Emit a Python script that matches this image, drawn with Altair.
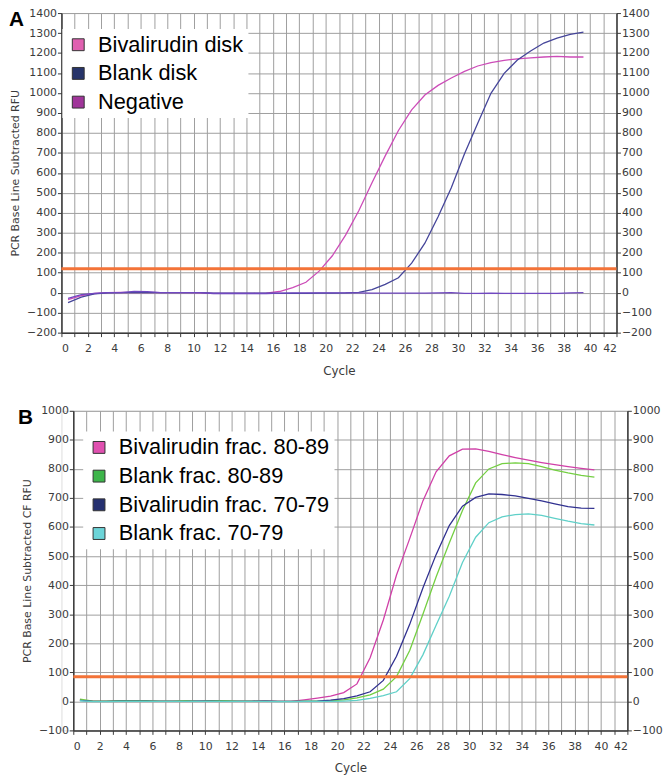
import altair as alt
import pandas as pd

cycles = [i + 0.5 for i in range(40)]

a_names = ["Bivalirudin disk", "Blank disk", "Negative"]
a_biv_disk = [-35, -15, -4, 0, 1, 2, 1, 0, 0, 0,
              -1, -3, -3, -3, -3, -2, 6, 25, 52, 108,
              185, 288, 410, 550, 685, 812, 915, 990, 1038, 1075,
              1108, 1135, 1152, 1163, 1171, 1176, 1180, 1183, 1180, 1180]
a_blank_disk = [-50, -22, -6, -1, 0, 0, 0, 0, 0, 0,
                0, -2, -2, -2, -2, -2, -3, -3, -3, -2,
                -2, -1, 2, 15, 42, 75, 148, 248, 380, 525,
                696, 848, 998, 1098, 1165, 1210, 1250, 1275, 1293, 1305]
a_negative = [-28, -10, -3, 0, 0, 7, 5, 0, 0, 0,
              0, -4, -4, -4, -4, -4, -2, -1, -1, -1,
              -1, -1, -1, -2, -2, -2, -2, -2, -1, 0,
              -3, -3, -2, -3, -3, -3, -3, -3, -1, 0]
a_line_colors = ["#cc4cb8", "#45459a", "#7048c0"]
a_legend_colors = ["#e060b0", "#27346a", "#a0359a"]
a_threshold = [120]

b_names = ["Bivalirudin frac. 80-89", "Blank frac. 80-89",
           "Bivalirudin frac. 70-79", "Blank frac. 70-79"]
b_biv_8089 = [5, 0, 0, 1, 1, 1, 1, 1, 1, 0,
              1, 1, 1, 1, 2, 0, 0, 5, 11, 18,
              30, 60, 150, 280, 435, 560, 690, 790, 845, 868,
              869, 860, 849, 839, 830, 822, 815, 808, 802, 797]
b_blank_8089 = [8, 1, 1, 2, 2, 2, 1, 1, 2, 1,
                2, 2, 1, 1, 1, 0, 0, 1, 1, 2,
                5, 12, 22, 42, 85, 175, 300, 428, 545, 657,
                752, 800, 818, 821, 818, 808, 796, 786, 778, 772]
b_biv_7079 = [3, 0, 0, 1, 1, 1, 0, 0, 0, 1,
              1, 0, 0, 0, 1, 0, 0, 0, 1, 4,
              9, 19, 33, 72, 155, 265, 390, 505, 605, 672,
              702, 714, 712, 707, 699, 690, 680, 670, 665, 664]
b_blank_7079 = [2, -1, -1, 0, 0, 0, 0, 0, 0, 0,
                0, 0, 0, 0, 0, -1, -1, 0, 0, 0,
                1, 3, 10, 20, 33, 78, 160, 262, 362, 478,
                565, 615, 635, 643, 645, 640, 630, 620, 612, 607]
b_line_colors = ["#d040a8", "#74cf42", "#303090", "#5fd0c8"]
b_legend_colors = ["#e050b0", "#3db54a", "#253070", "#6cd4d8"]
b_threshold = [85]

x_span = [0, 42]
panel_letters = ["A", "B"]

FONT = "DejaVu Sans"
LFONT = "Liberation Sans"
GRID = "#9e9e9e"
AXC = "#3a3a3a"
TXT = "#3b3b3b"


def long_df(names, series):
    rows = []
    for n, s in zip(names, series):
        for c, v in zip(cycles, s):
            rows.append({"cycle": c, "rfu": v, "series": n})
    return pd.DataFrame(rows)


def panel(letter, names, series, line_colors, legend_colors, ymin, ymax,
          ytitle, thr, shift, plot_w, legend_x, legend_y, letter_x):
    df = long_df(names, series)
    group_w = shift + plot_w
    xscale = alt.Scale(domain=x_span, nice=False, zero=False, range=[shift, group_w])
    yscale = alt.Scale(domain=[ymin, ymax], nice=False, zero=False)
    yvals = list(range(ymin, ymax + 1, 100))

    xaxis = alt.Axis(values=list(range(0, 43)), format="d",
                     labelExpr="datum.value % 2 == 0 ? datum.label : ''",
                     labelOverlap=False, grid=True, gridColor=GRID, gridWidth=1,
                     domainColor=AXC, domainWidth=1.5, tickColor=AXC, tickSize=4,
                     labelFont=FONT, labelFontSize=11, labelColor=TXT, labelPadding=6,
                     title="Cycle", titleFont=FONT, titleFontSize=12,
                     titleFontWeight="normal", titleColor=TXT, titlePadding=12)
    yaxis_left = alt.Axis(values=yvals, format="d", grid=True, gridColor=GRID, gridWidth=1,
                          domainColor=AXC, domainWidth=1.5, tickColor=AXC, tickSize=4,
                          labelFont=FONT, labelFontSize=11, labelColor=TXT,
                          labelPadding=1, labelOverlap=False, offset=-shift,
                          title=ytitle, titleFont=FONT, titleFontSize=11,
                          titleFontWeight="normal", titleColor=TXT, titleX=-41)
    yaxis_right = alt.Axis(orient="right", values=yvals, format="d", grid=False,
                           domainColor=AXC, domainWidth=1.5, tickColor=AXC, tickSize=4,
                           labelFont=FONT, labelFontSize=11, labelColor=TXT,
                           labelPadding=1, labelOverlap=False, title=None)

    line_layers = []
    for k, (n, col) in enumerate(zip(names, line_colors)):
        line_layers.append(
            alt.Chart(df).transform_filter(alt.datum.series == n).mark_line(
                color=col, strokeWidth=1.3).encode(
                x=alt.X("cycle:Q", scale=xscale, axis=xaxis),
                y=alt.Y("rfu:Q", scale=yscale, axis=yaxis_left if k == 0 else None),
            ))

    legend_df = pd.DataFrame({"series": names})
    legend_layer = alt.Chart(legend_df).mark_square(
        filled=True, size=144, opacity=0).encode(
        fill=alt.Fill("series:N",
                      scale=alt.Scale(domain=names, range=legend_colors),
                      legend=alt.Legend(title=None, orient="none",
                                        legendX=legend_x, legendY=legend_y,
                                        symbolType="square", symbolSize=144,
                                        symbolStrokeColor="#333333",
                                        symbolStrokeWidth=1,
                                        labelFont=LFONT, labelFontSize=22,
                                        labelColor="black", labelLimit=400,
                                        labelOffset=9, fillColor="white",
                                        padding=5, rowPadding=7)),
    )

    rule_df = pd.DataFrame({"thr": thr, "x0": [x_span[0]], "x1": [x_span[1]]})
    rule = alt.Chart(rule_df).mark_rule(color="#f37338", strokeWidth=3).encode(
        x=alt.X("x0:Q", scale=xscale, axis=xaxis),
        x2="x1:Q",
        y=alt.Y("thr:Q", scale=yscale, axis=yaxis_right))

    letter_df = pd.DataFrame({"t": [letter]})
    letter_txt = alt.Chart(letter_df).mark_text(
        font=LFONT, fontSize=21, fontWeight="bold", align="left",
        baseline="top", color="black").encode(
        text="t:N", x=alt.value(letter_x), y=alt.value(-4))

    return alt.layer(*line_layers, legend_layer, rule, letter_txt).resolve_axis(
        y="independent").properties(width=group_w, height=323)


pa = panel(panel_letters[0], a_names, [a_biv_disk, a_blank_disk, a_negative],
           a_line_colors, a_legend_colors, -200, 1400,
           "PCR Base Line Subtracted RFU", a_threshold, 0, 561, 1, 16, -53)
pb = panel(panel_letters[1], b_names, [b_biv_8089, b_blank_8089, b_biv_7079, b_blank_7079],
           b_line_colors, b_legend_colors, -100, 1000,
           "PCR Base Line Subtracted CF RFU", b_threshold, 12, 560, 22, 21, -44)

chart = alt.vconcat(pa, pb, spacing=27).resolve_scale(
    fill="independent", x="independent", y="independent").properties(
    padding={"top": -6, "left": 0, "right": 0, "bottom": 0}).configure_view(
    stroke=None).configure(background="white")

chart.save("out.html", embed_options={"renderer": "svg", "actions": False})
